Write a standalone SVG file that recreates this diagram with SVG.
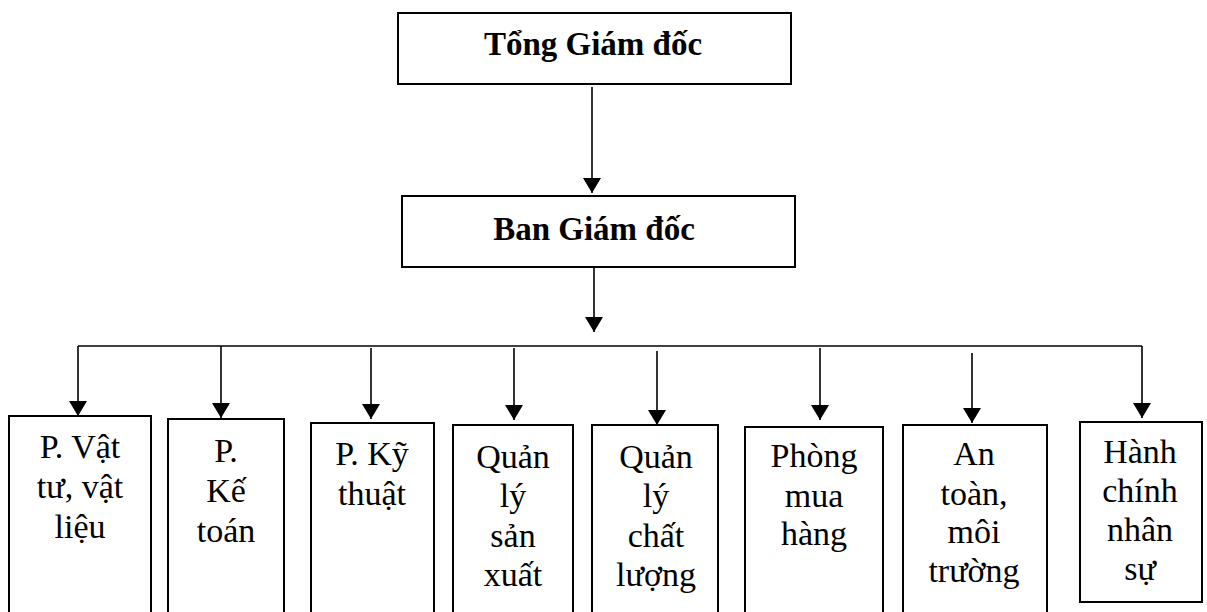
<svg xmlns="http://www.w3.org/2000/svg" width="1207" height="612" viewBox="0 0 1207 612">
<defs>
<marker id="arr" markerUnits="userSpaceOnUse" markerWidth="16" markerHeight="18" viewBox="0 0 16 18" refX="15" refY="9" orient="auto">
<path d="M0,0 L15,9 L0,18 Z" fill="#000"/>
</marker>
<style>
.box{fill:#fff;stroke:#000;stroke-width:2}
text{font-family:'Liberation Serif','Times New Roman','DejaVu Serif',serif}
.t{font-size:34px;fill:#000;text-anchor:middle}
.b{font-weight:bold;font-size:33px}
.c{fill:none;stroke:#000;stroke-width:1.6}
</style>
</defs>
<rect width="1207" height="612" fill="#fff"/>
<g id="connectors">
<path class="c" d="M78,346 H1142"/>
<line class="c" x1="592" y1="87" x2="592" y2="193" marker-end="url(#arr)"/>
<line class="c" x1="594" y1="267" x2="594" y2="332" marker-end="url(#arr)"/>
<line class="c" x1="78" y1="346" x2="78" y2="416" marker-end="url(#arr)"/>
<line class="c" x1="221" y1="346" x2="221" y2="418" marker-end="url(#arr)"/>
<line class="c" x1="371" y1="348" x2="371" y2="419" marker-end="url(#arr)"/>
<line class="c" x1="514" y1="348" x2="514" y2="420" marker-end="url(#arr)"/>
<line class="c" x1="657" y1="351" x2="657" y2="425" marker-end="url(#arr)"/>
<line class="c" x1="820" y1="348" x2="820" y2="420" marker-end="url(#arr)"/>
<line class="c" x1="972" y1="353" x2="972" y2="423" marker-end="url(#arr)"/>
<line class="c" x1="1142" y1="346" x2="1142" y2="418" marker-end="url(#arr)"/>
</g>
<g id="tong-giam-doc">
<rect class="box" x="398" y="13" width="393" height="71"/>
<text class="t b" x="593" y="55">Tổng Giám đốc</text>
</g>
<g id="ban-giam-doc">
<rect class="box" x="402" y="196" width="393" height="71"/>
<text class="t b" x="594" y="240">Ban Giám đốc</text>
</g>
<g id="p-vat-tu">
<rect class="box" x="9" y="416" width="142" height="210"/>
<text class="t" x="80" y="458">P. Vật</text>
<text class="t" x="80" y="498">tư, vật</text>
<text class="t" x="80" y="538">liệu</text>
</g>
<g id="p-ke-toan">
<rect class="box" x="168" y="419" width="116" height="210"/>
<text class="t" x="226" y="462">P.</text>
<text class="t" x="226" y="502">Kế</text>
<text class="t" x="226" y="542">toán</text>
</g>
<g id="p-ky-thuat">
<rect class="box" x="311" y="423" width="123" height="210"/>
<text class="t" x="372" y="465">P. Kỹ</text>
<text class="t" x="372" y="505">thuật</text>
</g>
<g id="quan-ly-san-xuat">
<rect class="box" x="453" y="425" width="120" height="210"/>
<text class="t" x="513" y="468">Quản</text>
<text class="t" x="513" y="507">lý</text>
<text class="t" x="513" y="547">sản</text>
<text class="t" x="513" y="586">xuất</text>
</g>
<g id="quan-ly-chat-luong">
<rect class="box" x="592" y="425" width="126" height="210"/>
<text class="t" x="656" y="468">Quản</text>
<text class="t" x="656" y="507">lý</text>
<text class="t" x="656" y="547">chất</text>
<text class="t" x="656" y="586">lượng</text>
</g>
<g id="phong-mua-hang">
<rect class="box" x="745" y="427" width="138" height="210"/>
<text class="t" x="814" y="467">Phòng</text>
<text class="t" x="814" y="507">mua</text>
<text class="t" x="814" y="545">hàng</text>
</g>
<g id="an-toan-moi-truong">
<rect class="box" x="903" y="425" width="144" height="210"/>
<text class="t" x="974" y="465">An</text>
<text class="t" x="974" y="505">toàn,</text>
<text class="t" x="974" y="543">môi</text>
<text class="t" x="974" y="582">trường</text>
</g>
<g id="hanh-chinh-nhan-su">
<rect class="box" x="1080" y="422" width="122" height="180"/>
<text class="t" x="1140" y="463">Hành</text>
<text class="t" x="1140" y="502">chính</text>
<text class="t" x="1140" y="541">nhân</text>
<text class="t" x="1140" y="580">sự</text>
</g>
</svg>
